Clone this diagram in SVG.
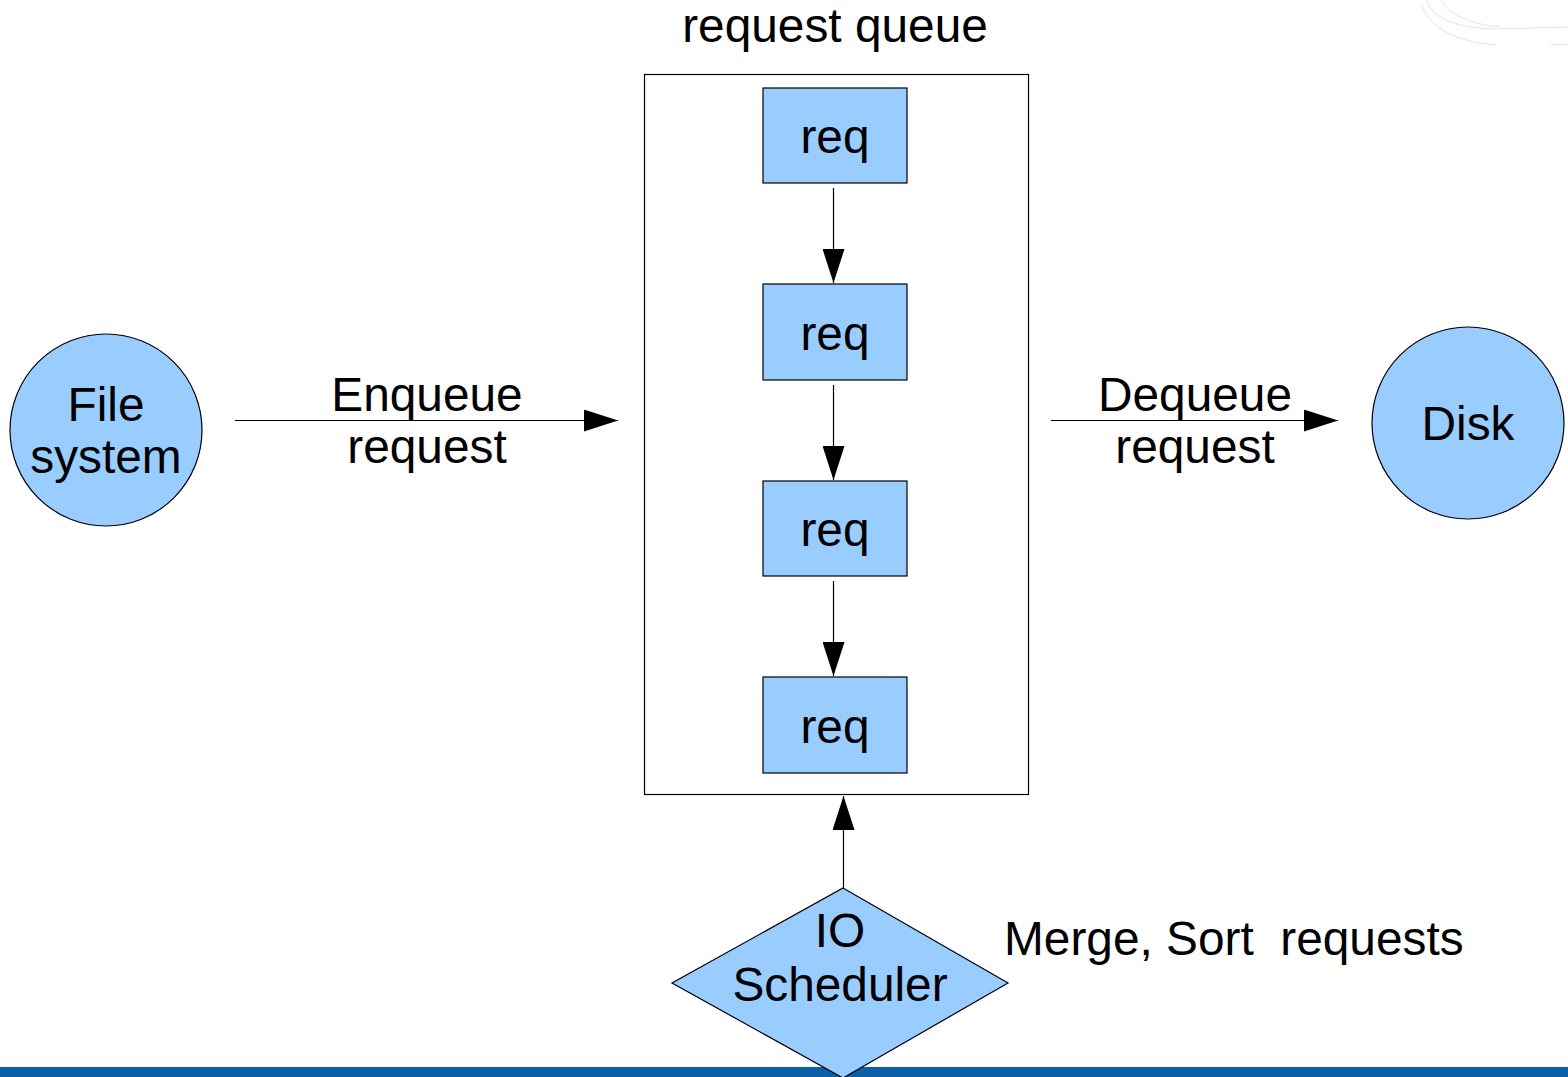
<svg xmlns="http://www.w3.org/2000/svg" width="1568" height="1077" viewBox="0 0 1568 1077">
  <style>
    .lbl { font-family: "Liberation Sans", Arial, sans-serif; font-size: 47.8px; fill: #000; }
    .mid { text-anchor: middle; }
    .shape { fill: #99ccff; stroke: #000; stroke-width: 1.2; }
    .conn { stroke: #000; stroke-width: 1.2; fill: none; }
  </style>
  <defs>
    <marker id="arrow" viewBox="0 0 34 22" refX="34" refY="11" markerWidth="34" markerHeight="22" markerUnits="userSpaceOnUse" orient="auto">
      <path d="M0,0 L34,11 L0,22 Z" fill="#000"/>
    </marker>
  </defs>

  <rect width="1568" height="1077" fill="#fff"/>

  <!-- faint decorative swirl in the corner -->
  <g fill="none" stroke="#e4e4e4" stroke-width="1">
    <path d="M1427,0 C1432,20 1460,28 1495,29 L1568,27"/>
    <path d="M1441,0 C1448,14 1470,24 1500,27"/>
    <path d="M1422,5 C1430,30 1460,42 1495,45"/>
    <path d="M1550,45 L1568,44"/>
  </g>

  <!-- bottom band -->
  <rect x="0" y="1067" width="1568" height="10" fill="#0a5fa8"/>

  <text class="lbl mid" x="835" y="42">request queue</text>

  <g id="queue">
    <rect x="644.5" y="74.5" width="384" height="720" fill="#fff" stroke="#000" stroke-width="1.2"/>
  </g>

  <g id="req1">
    <rect class="shape" x="763" y="88" width="144" height="95"/>
    <text class="lbl mid" x="835" y="153">req</text>
  </g>
  <g id="req2">
    <rect class="shape" x="763" y="284" width="144" height="96"/>
    <text class="lbl mid" x="835" y="350">req</text>
  </g>
  <g id="req3">
    <rect class="shape" x="763" y="481" width="144" height="95"/>
    <text class="lbl mid" x="835" y="546">req</text>
  </g>
  <g id="req4">
    <rect class="shape" x="763" y="677" width="144" height="96"/>
    <text class="lbl mid" x="835" y="743">req</text>
  </g>

  <g id="filesystem">
    <circle class="shape" cx="106" cy="430" r="96"/>
    <text class="lbl mid" x="106" y="421">File</text>
    <text class="lbl mid" x="106" y="473">system</text>
  </g>

  <g id="disk">
    <circle class="shape" cx="1468" cy="423" r="96"/>
    <text class="lbl mid" x="1468" y="440">Disk</text>
  </g>

  <g id="scheduler">
    <polygon class="shape" points="843,888 1008,983 843,1078 672,983"/>
    <text class="lbl mid" x="840" y="947">IO</text>
    <text class="lbl mid" x="840" y="1001">Scheduler</text>
  </g>

  <g id="connectors">
    <line class="conn" x1="235" y1="420.5" x2="618" y2="420.5" marker-end="url(#arrow)"/>
    <line class="conn" x1="1051" y1="420.5" x2="1338" y2="420.5" marker-end="url(#arrow)"/>
    <line class="conn" x1="833.5" y1="188" x2="833.5" y2="283" marker-end="url(#arrow)"/>
    <line class="conn" x1="833.5" y1="385" x2="833.5" y2="480" marker-end="url(#arrow)"/>
    <line class="conn" x1="833.5" y1="581" x2="833.5" y2="676" marker-end="url(#arrow)"/>
    <line class="conn" x1="843.5" y1="888" x2="843.5" y2="796" marker-end="url(#arrow)"/>
  </g>

  <text class="lbl mid" x="427" y="411">Enqueue</text>
  <text class="lbl mid" x="427" y="463">request</text>
  <text class="lbl mid" x="1195" y="411">Dequeue</text>
  <text class="lbl mid" x="1195" y="463">request</text>
  <text class="lbl" x="1004" y="955" xml:space="preserve">Merge, Sort  requests</text>
</svg>
